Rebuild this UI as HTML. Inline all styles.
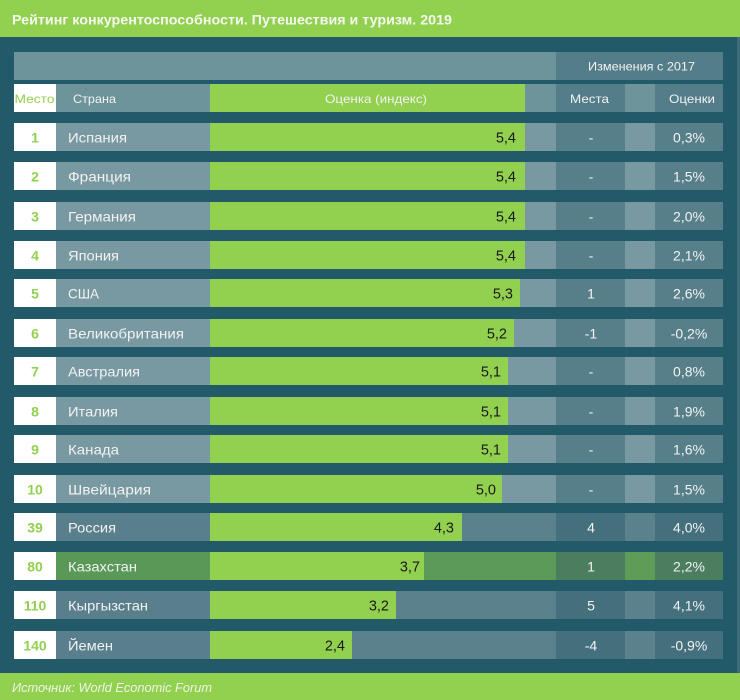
<!DOCTYPE html>
<html><head><meta charset="utf-8"><style>
html,body{margin:0;padding:0;background:#225a69;}
svg{display:block;}
text{font-family:"Liberation Sans",sans-serif;}
</style></head><body>
<svg width="740" height="700" viewBox="0 0 740 700" xmlns="http://www.w3.org/2000/svg">
<rect x="0" y="0" width="740" height="700" fill="#225a69"/>
<rect x="0" y="0" width="740" height="37" fill="#92d050"/>
<text x="12" y="24.5" font-size="14" font-weight="bold" fill="#f4f8ee" textLength="440" lengthAdjust="spacingAndGlyphs">Рейтинг конкурентоспособности. Путешествия и туризм. 2019</text>
<rect x="737" y="37" width="3" height="636" fill="#3f6d7a"/>
<rect x="0" y="673" width="740" height="27" fill="#92d050"/>
<text x="12" y="692" font-size="13" font-style="italic" fill="#eef5e4" textLength="200" lengthAdjust="spacingAndGlyphs">Источник: World Economic Forum</text>

<!-- header row 1 -->
<rect x="14" y="52" width="542" height="28" fill="#6d939b"/>
<rect x="556" y="52" width="167" height="28" fill="#537d89"/>
<text x="588" y="70.5" font-size="12" fill="#f2f2f2" textLength="107" lengthAdjust="spacingAndGlyphs">Изменения с 2017</text>

<!-- header row 2 -->
<rect x="14" y="84" width="42" height="28" fill="#ffffff"/>
<rect x="56" y="84" width="154" height="28" fill="#6d939b"/>
<rect x="210" y="84" width="315" height="28" fill="#92d050"/>
<rect x="525" y="84" width="31" height="28" fill="#6d939b"/>
<rect x="556" y="84" width="69" height="28" fill="#537d89"/>
<rect x="625" y="84" width="30" height="28" fill="#6d939b"/>
<rect x="655" y="84" width="68" height="28" fill="#537d89"/>
<text x="14.5" y="103" font-size="12" fill="#92d050" textLength="40" lengthAdjust="spacingAndGlyphs">Место</text>
<text x="73" y="103" font-size="12" fill="#f2f2f2" textLength="43" lengthAdjust="spacingAndGlyphs">Страна</text>
<text x="325" y="103" font-size="12" fill="#f2f2f2" textLength="102" lengthAdjust="spacingAndGlyphs">Оценка (индекс)</text>
<text x="570" y="103" font-size="12" fill="#f2f2f2" textLength="39" lengthAdjust="spacingAndGlyphs">Места</text>
<text x="669" y="103" font-size="12" fill="#f2f2f2" textLength="46" lengthAdjust="spacingAndGlyphs">Оценки</text>

<!-- rows -->
<g id="rows">
<!-- row template: top, place, country, width, value, barEnd, mest, ocen -->
<!-- 1 -->
<rect x="14" y="123" width="42" height="28" fill="#fff"/><rect x="56" y="123" width="154" height="28" fill="#7899a1"/><rect x="210" y="123" width="315" height="28" fill="#92d050"/><rect x="525" y="123" width="31" height="28" fill="#7899a1"/><rect x="556" y="123" width="69" height="28" fill="#577f8a"/><rect x="625" y="123" width="30" height="28" fill="#7899a1"/><rect x="655" y="123" width="68" height="28" fill="#577f8a"/>
<text x="35" y="142.5" font-size="14" font-weight="bold" fill="#92d050" text-anchor="middle">1</text>
<text x="68" y="142.5" font-size="14" fill="#f2f2f2" textLength="59" lengthAdjust="spacingAndGlyphs">Испания</text>
<text x="516" y="142.5" font-size="14.5" fill="#1a1a1a" text-anchor="end">5,4</text>
<text x="591" y="142.5" font-size="14" fill="#f2f2f2" text-anchor="middle">-</text>
<text x="689" y="142.5" font-size="14" fill="#f2f2f2" text-anchor="middle">0,3%</text>
<!-- 2 -->
<rect x="14" y="162" width="42" height="28" fill="#fff"/><rect x="56" y="162" width="154" height="28" fill="#7899a1"/><rect x="210" y="162" width="315" height="28" fill="#92d050"/><rect x="525" y="162" width="31" height="28" fill="#7899a1"/><rect x="556" y="162" width="69" height="28" fill="#577f8a"/><rect x="625" y="162" width="30" height="28" fill="#7899a1"/><rect x="655" y="162" width="68" height="28" fill="#577f8a"/>
<text x="35" y="181.5" font-size="14" font-weight="bold" fill="#92d050" text-anchor="middle">2</text>
<text x="68" y="181.5" font-size="14" fill="#f2f2f2" textLength="63" lengthAdjust="spacingAndGlyphs">Франция</text>
<text x="516" y="181.5" font-size="14.5" fill="#1a1a1a" text-anchor="end">5,4</text>
<text x="591" y="181.5" font-size="14" fill="#f2f2f2" text-anchor="middle">-</text>
<text x="689" y="181.5" font-size="14" fill="#f2f2f2" text-anchor="middle">1,5%</text>
<!-- 3 -->
<rect x="14" y="202" width="42" height="28" fill="#fff"/><rect x="56" y="202" width="154" height="28" fill="#7899a1"/><rect x="210" y="202" width="315" height="28" fill="#92d050"/><rect x="525" y="202" width="31" height="28" fill="#7899a1"/><rect x="556" y="202" width="69" height="28" fill="#577f8a"/><rect x="625" y="202" width="30" height="28" fill="#7899a1"/><rect x="655" y="202" width="68" height="28" fill="#577f8a"/>
<text x="35" y="221.5" font-size="14" font-weight="bold" fill="#92d050" text-anchor="middle">3</text>
<text x="68" y="221.5" font-size="14" fill="#f2f2f2" textLength="68" lengthAdjust="spacingAndGlyphs">Германия</text>
<text x="516" y="221.5" font-size="14.5" fill="#1a1a1a" text-anchor="end">5,4</text>
<text x="591" y="221.5" font-size="14" fill="#f2f2f2" text-anchor="middle">-</text>
<text x="689" y="221.5" font-size="14" fill="#f2f2f2" text-anchor="middle">2,0%</text>
<!-- 4 -->
<rect x="14" y="241" width="42" height="28" fill="#fff"/><rect x="56" y="241" width="154" height="28" fill="#7899a1"/><rect x="210" y="241" width="315" height="28" fill="#92d050"/><rect x="525" y="241" width="31" height="28" fill="#7899a1"/><rect x="556" y="241" width="69" height="28" fill="#577f8a"/><rect x="625" y="241" width="30" height="28" fill="#7899a1"/><rect x="655" y="241" width="68" height="28" fill="#577f8a"/>
<text x="35" y="260.5" font-size="14" font-weight="bold" fill="#92d050" text-anchor="middle">4</text>
<text x="68" y="260.5" font-size="14" fill="#f2f2f2" textLength="51" lengthAdjust="spacingAndGlyphs">Япония</text>
<text x="516" y="260.5" font-size="14.5" fill="#1a1a1a" text-anchor="end">5,4</text>
<text x="591" y="260.5" font-size="14" fill="#f2f2f2" text-anchor="middle">-</text>
<text x="689" y="260.5" font-size="14" fill="#f2f2f2" text-anchor="middle">2,1%</text>
<!-- 5 -->
<rect x="14" y="279" width="42" height="28" fill="#fff"/><rect x="56" y="279" width="154" height="28" fill="#7899a1"/><rect x="210" y="279" width="310" height="28" fill="#92d050"/><rect x="520" y="279" width="36" height="28" fill="#7899a1"/><rect x="556" y="279" width="69" height="28" fill="#577f8a"/><rect x="625" y="279" width="30" height="28" fill="#7899a1"/><rect x="655" y="279" width="68" height="28" fill="#577f8a"/>
<text x="35" y="298.5" font-size="14" font-weight="bold" fill="#92d050" text-anchor="middle">5</text>
<text x="68" y="298.5" font-size="14" fill="#f2f2f2" textLength="31" lengthAdjust="spacingAndGlyphs">США</text>
<text x="513" y="298.5" font-size="14.5" fill="#1a1a1a" text-anchor="end">5,3</text>
<text x="591" y="298.5" font-size="14" fill="#f2f2f2" text-anchor="middle">1</text>
<text x="689" y="298.5" font-size="14" fill="#f2f2f2" text-anchor="middle">2,6%</text>
<!-- 6 -->
<rect x="14" y="319" width="42" height="28" fill="#fff"/><rect x="56" y="319" width="154" height="28" fill="#7899a1"/><rect x="210" y="319" width="304" height="28" fill="#92d050"/><rect x="514" y="319" width="42" height="28" fill="#7899a1"/><rect x="556" y="319" width="69" height="28" fill="#577f8a"/><rect x="625" y="319" width="30" height="28" fill="#7899a1"/><rect x="655" y="319" width="68" height="28" fill="#577f8a"/>
<text x="35" y="338.5" font-size="14" font-weight="bold" fill="#92d050" text-anchor="middle">6</text>
<text x="68" y="338.5" font-size="14" fill="#f2f2f2" textLength="116" lengthAdjust="spacingAndGlyphs">Великобритания</text>
<text x="507" y="338.5" font-size="14.5" fill="#1a1a1a" text-anchor="end">5,2</text>
<text x="591" y="338.5" font-size="14" fill="#f2f2f2" text-anchor="middle">-1</text>
<text x="689" y="338.5" font-size="14" fill="#f2f2f2" text-anchor="middle">-0,2%</text>
<!-- 7 -->
<rect x="14" y="357" width="42" height="28" fill="#fff"/><rect x="56" y="357" width="154" height="28" fill="#7899a1"/><rect x="210" y="357" width="298" height="28" fill="#92d050"/><rect x="508" y="357" width="48" height="28" fill="#7899a1"/><rect x="556" y="357" width="69" height="28" fill="#577f8a"/><rect x="625" y="357" width="30" height="28" fill="#7899a1"/><rect x="655" y="357" width="68" height="28" fill="#577f8a"/>
<text x="35" y="376.5" font-size="14" font-weight="bold" fill="#92d050" text-anchor="middle">7</text>
<text x="68" y="376.5" font-size="14" fill="#f2f2f2" textLength="72" lengthAdjust="spacingAndGlyphs">Австралия</text>
<text x="501" y="376.5" font-size="14.5" fill="#1a1a1a" text-anchor="end">5,1</text>
<text x="591" y="376.5" font-size="14" fill="#f2f2f2" text-anchor="middle">-</text>
<text x="689" y="376.5" font-size="14" fill="#f2f2f2" text-anchor="middle">0,8%</text>
<!-- 8 -->
<rect x="14" y="397" width="42" height="28" fill="#fff"/><rect x="56" y="397" width="154" height="28" fill="#7899a1"/><rect x="210" y="397" width="298" height="28" fill="#92d050"/><rect x="508" y="397" width="48" height="28" fill="#7899a1"/><rect x="556" y="397" width="69" height="28" fill="#577f8a"/><rect x="625" y="397" width="30" height="28" fill="#7899a1"/><rect x="655" y="397" width="68" height="28" fill="#577f8a"/>
<text x="35" y="416.5" font-size="14" font-weight="bold" fill="#92d050" text-anchor="middle">8</text>
<text x="68" y="416.5" font-size="14" fill="#f2f2f2" textLength="50" lengthAdjust="spacingAndGlyphs">Италия</text>
<text x="501" y="416.5" font-size="14.5" fill="#1a1a1a" text-anchor="end">5,1</text>
<text x="591" y="416.5" font-size="14" fill="#f2f2f2" text-anchor="middle">-</text>
<text x="689" y="416.5" font-size="14" fill="#f2f2f2" text-anchor="middle">1,9%</text>
<!-- 9 -->
<rect x="14" y="435" width="42" height="28" fill="#fff"/><rect x="56" y="435" width="154" height="28" fill="#7899a1"/><rect x="210" y="435" width="298" height="28" fill="#92d050"/><rect x="508" y="435" width="48" height="28" fill="#7899a1"/><rect x="556" y="435" width="69" height="28" fill="#577f8a"/><rect x="625" y="435" width="30" height="28" fill="#7899a1"/><rect x="655" y="435" width="68" height="28" fill="#577f8a"/>
<text x="35" y="454.5" font-size="14" font-weight="bold" fill="#92d050" text-anchor="middle">9</text>
<text x="68" y="454.5" font-size="14" fill="#f2f2f2" textLength="51" lengthAdjust="spacingAndGlyphs">Канада</text>
<text x="501" y="454.5" font-size="14.5" fill="#1a1a1a" text-anchor="end">5,1</text>
<text x="591" y="454.5" font-size="14" fill="#f2f2f2" text-anchor="middle">-</text>
<text x="689" y="454.5" font-size="14" fill="#f2f2f2" text-anchor="middle">1,6%</text>
<!-- 10 -->
<rect x="14" y="475" width="42" height="28" fill="#fff"/><rect x="56" y="475" width="154" height="28" fill="#7899a1"/><rect x="210" y="475" width="292" height="28" fill="#92d050"/><rect x="502" y="475" width="54" height="28" fill="#7899a1"/><rect x="556" y="475" width="69" height="28" fill="#577f8a"/><rect x="625" y="475" width="30" height="28" fill="#7899a1"/><rect x="655" y="475" width="68" height="28" fill="#577f8a"/>
<text x="35" y="494.5" font-size="14" font-weight="bold" fill="#92d050" text-anchor="middle">10</text>
<text x="68" y="494.5" font-size="14" fill="#f2f2f2" textLength="83" lengthAdjust="spacingAndGlyphs">Швейцария</text>
<text x="496" y="494.5" font-size="14.5" fill="#1a1a1a" text-anchor="end">5,0</text>
<text x="591" y="494.5" font-size="14" fill="#f2f2f2" text-anchor="middle">-</text>
<text x="689" y="494.5" font-size="14" fill="#f2f2f2" text-anchor="middle">1,5%</text>
<!-- 39 -->
<rect x="14" y="513" width="42" height="28" fill="#fff"/><rect x="56" y="513" width="154" height="28" fill="#587f8b"/><rect x="210" y="513" width="252" height="28" fill="#92d050"/><rect x="462" y="513" width="94" height="28" fill="#5a818c"/><rect x="556" y="513" width="69" height="28" fill="#44707e"/><rect x="625" y="513" width="30" height="28" fill="#5a818c"/><rect x="655" y="513" width="68" height="28" fill="#44707e"/>
<text x="35" y="532.5" font-size="14" font-weight="bold" fill="#92d050" text-anchor="middle">39</text>
<text x="68" y="532.5" font-size="14" fill="#f2f2f2" textLength="48" lengthAdjust="spacingAndGlyphs">Россия</text>
<text x="454" y="532.5" font-size="14.5" fill="#1a1a1a" text-anchor="end">4,3</text>
<text x="591" y="532.5" font-size="14" fill="#f2f2f2" text-anchor="middle">4</text>
<text x="689" y="532.5" font-size="14" fill="#f2f2f2" text-anchor="middle">4,0%</text>
<!-- 80 -->
<rect x="14" y="552" width="42" height="28" fill="#fff"/><rect x="56" y="552" width="154" height="28" fill="#5a9858"/><rect x="210" y="552" width="214" height="28" fill="#92d050"/><rect x="424" y="552" width="132" height="28" fill="#5c9a57"/><rect x="556" y="552" width="69" height="28" fill="#4a7e5f"/><rect x="625" y="552" width="30" height="28" fill="#5f9c57"/><rect x="655" y="552" width="68" height="28" fill="#4a7e5f"/>
<text x="35" y="571.5" font-size="14" font-weight="bold" fill="#92d050" text-anchor="middle">80</text>
<text x="68" y="571.5" font-size="14" fill="#f2f2f2" textLength="69" lengthAdjust="spacingAndGlyphs">Казахстан</text>
<text x="420" y="571.5" font-size="14.5" fill="#1a1a1a" text-anchor="end">3,7</text>
<text x="591" y="571.5" font-size="14" fill="#f2f2f2" text-anchor="middle">1</text>
<text x="689" y="571.5" font-size="14" fill="#f2f2f2" text-anchor="middle">2,2%</text>
<!-- 110 -->
<rect x="14" y="591" width="42" height="28" fill="#fff"/><rect x="56" y="591" width="154" height="28" fill="#587f8b"/><rect x="210" y="591" width="186" height="28" fill="#92d050"/><rect x="396" y="591" width="160" height="28" fill="#5a818c"/><rect x="556" y="591" width="69" height="28" fill="#44707e"/><rect x="625" y="591" width="30" height="28" fill="#5a818c"/><rect x="655" y="591" width="68" height="28" fill="#44707e"/>
<text x="35" y="610.5" font-size="14" font-weight="bold" fill="#92d050" text-anchor="middle">110</text>
<text x="68" y="610.5" font-size="14" fill="#f2f2f2" textLength="80" lengthAdjust="spacingAndGlyphs">Кыргызстан</text>
<text x="389" y="610.5" font-size="14.5" fill="#1a1a1a" text-anchor="end">3,2</text>
<text x="591" y="610.5" font-size="14" fill="#f2f2f2" text-anchor="middle">5</text>
<text x="689" y="610.5" font-size="14" fill="#f2f2f2" text-anchor="middle">4,1%</text>
<!-- 140 -->
<rect x="14" y="631" width="42" height="28" fill="#fff"/><rect x="56" y="631" width="154" height="28" fill="#587f8b"/><rect x="210" y="631" width="142" height="28" fill="#92d050"/><rect x="352" y="631" width="204" height="28" fill="#5a818c"/><rect x="556" y="631" width="69" height="28" fill="#44707e"/><rect x="625" y="631" width="30" height="28" fill="#5a818c"/><rect x="655" y="631" width="68" height="28" fill="#44707e"/>
<text x="35" y="650.5" font-size="14" font-weight="bold" fill="#92d050" text-anchor="middle">140</text>
<text x="68" y="650.5" font-size="14" fill="#f2f2f2" textLength="45" lengthAdjust="spacingAndGlyphs">Йемен</text>
<text x="345" y="650.5" font-size="14.5" fill="#1a1a1a" text-anchor="end">2,4</text>
<text x="591" y="650.5" font-size="14" fill="#f2f2f2" text-anchor="middle">-4</text>
<text x="689" y="650.5" font-size="14" fill="#f2f2f2" text-anchor="middle">-0,9%</text>
</g>
</svg>
</body></html>
